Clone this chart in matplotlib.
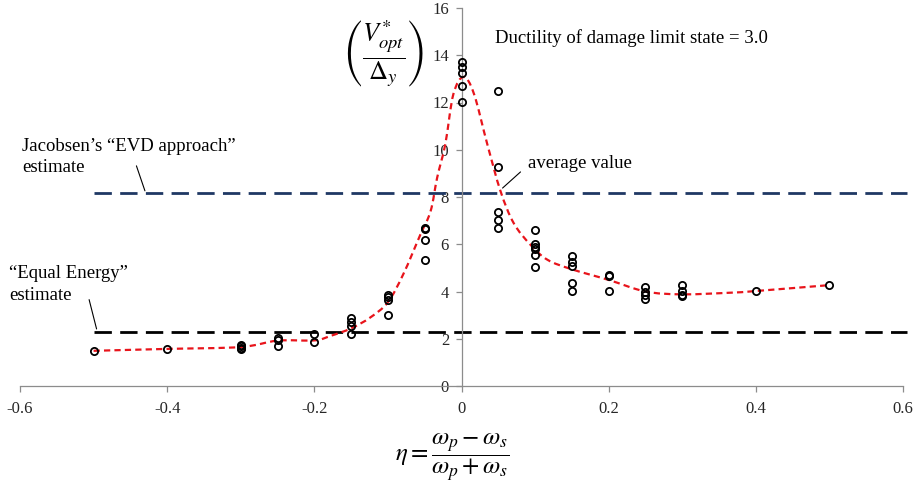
import matplotlib
matplotlib.use("Agg")
import matplotlib.pyplot as plt
import numpy as np
from matplotlib.path import Path
from matplotlib.patches import PathPatch

plt.rcParams['font.family'] = ['Liberation Serif', 'DejaVu Serif']
plt.rcParams['mathtext.fontset'] = 'stix'
plt.rcParams['lines.scale_dashes'] = False

# ---- data ----
eta_groups = [-0.5, -0.4, -0.3, -0.25, -0.2, -0.15, -0.1, -0.05, 0.0,
              0.05, 0.1, 0.15, 0.2, 0.25, 0.3, 0.4, 0.5]
v_groups = [
    [1.49],
    [1.58],
    [1.75, 1.68, 1.62, 1.56],
    [2.03, 1.93, 1.68],
    [2.20, 1.85],
    [2.86, 2.72, 2.54, 2.20],
    [3.85, 3.75, 3.63, 3.00],
    [6.70, 6.63, 6.17, 5.33],
    [13.72, 13.50, 13.26, 12.70, 12.03],
    [12.50, 9.25, 7.35, 7.03, 6.68],
    [6.60, 6.03, 5.90, 5.80, 5.54, 5.02],
    [5.50, 5.26, 5.10, 4.34, 4.02],
    [4.70, 4.64, 4.02],
    [4.17, 3.97, 3.85, 3.68],
    [4.27, 4.02, 3.86, 3.82],
    [4.02],
    [4.27],
]

avg_eta = [-0.5, -0.4, -0.3, -0.25, -0.2, -0.178, -0.15, -0.124, -0.1, -0.079,
           -0.056, -0.042, -0.033, -0.022, -0.011, 0.003, 0.017, 0.035, 0.053,
           0.071, 0.094, 0.117, 0.15, 0.2, 0.25, 0.3, 0.366, 0.4, 0.5]
avg_v = [1.49, 1.57, 1.65, 1.92, 1.93, 2.12, 2.44, 2.90, 3.55, 4.74,
         6.40, 7.40, 8.83, 10.24, 12.36, 13.08, 12.36, 10.24, 8.25,
         6.89, 5.97, 5.34, 4.94, 4.49, 4.00, 3.88, 3.95, 4.02, 4.27]

evd_level = 8.15
equal_energy_level = 2.30
ref_line_eta = [-0.5, 0.605]

x_ticks = [-0.6, -0.4, -0.2, 0, 0.2, 0.4, 0.6]
x_tick_labels = ['-0.6', '-0.4', '-0.2', '0', '0.2', '0.4', '0.6']
y_ticks = [0, 2, 4, 6, 8, 10, 12, 14, 16]

# ---- figure ----
fig = plt.figure(figsize=(9.22, 4.96), dpi=100)
ax = fig.add_axes([20/922, 110/496, 883/922, 378/496])
ax.set_xlim(-0.6, 0.6)
ax.set_ylim(0, 16)

# reference lines
ax.plot(ref_line_eta, [evd_level]*2, color='#1F3864', lw=2.0,
        dashes=(12.5, 6), clip_on=False, zorder=2)
ax.plot(ref_line_eta, [equal_energy_level]*2, color='black', lw=2.0,
        dashes=(12.5, 6), clip_on=False, zorder=2)

# smooth average curve (Catmull-Rom -> cubic Bezier in data space)
px = np.array(avg_eta); py = np.array(avg_v)
verts = [(px[0], py[0])]
codes = [Path.MOVETO]
n = len(px)
for i in range(n - 1):
    p0 = np.array([px[max(i-1, 0)], py[max(i-1, 0)]])
    p1 = np.array([px[i], py[i]])
    p2 = np.array([px[i+1], py[i+1]])
    p3 = np.array([px[min(i+2, n-1)], py[min(i+2, n-1)]])
    c1 = p1 + (p2 - p0) / 6.0
    c2 = p2 - (p3 - p1) / 6.0
    verts += [tuple(c1), tuple(c2), tuple(p2)]
    codes += [Path.CURVE4]*3
path = Path(verts, codes)
patch = PathPatch(path, facecolor='none', edgecolor='#E8141B', lw=1.6,
                  linestyle=(0, (4.5, 3)), zorder=3)
ax.add_patch(patch)

# scatter points
for e, vals in zip(eta_groups, v_groups):
    ax.plot([e]*len(vals), vals, linestyle='none', marker='o', ms=5.2,
            mfc='none', mec='black', mew=1.3, zorder=4)

# axes styling
for s in ['top', 'right']:
    ax.spines[s].set_visible(False)
ax.spines['left'].set_position(('data', 0))
ax.spines['bottom'].set_position(('data', 0))
for s in ['left', 'bottom']:
    ax.spines[s].set_color('#8C8C8C')
    ax.spines[s].set_linewidth(0.9)
ax.set_xticks(x_ticks)
ax.set_xticklabels(x_tick_labels)
ax.set_yticks(y_ticks)
ax.tick_params(axis='both', direction='out', length=4, width=0.9,
               color='#8C8C8C', labelsize=12, labelcolor='#262626')
ax.tick_params(axis='x', pad=7)
ax.tick_params(axis='y', pad=5)
ax.patch.set_alpha(0)

# annotations
tfs = 13.5
ax.text(-0.597, 9.96, 'Jacobsen’s “EVD approach”', fontsize=tfs, va='baseline', clip_on=False)
ax.text(-0.597, 9.07, 'estimate', fontsize=tfs, va='baseline', clip_on=False)
ax.annotate('', xy=(-0.429, evd_level), xytext=(-0.443, 9.43),
            arrowprops=dict(arrowstyle='-', color='black', lw=0.8), annotation_clip=False)

ax.text(-0.615, 4.56, '“Equal Energy”', fontsize=tfs, va='baseline', clip_on=False)
ax.text(-0.615, 3.64, 'estimate', fontsize=tfs, va='baseline', clip_on=False)
ax.annotate('', xy=(-0.495, equal_energy_level), xytext=(-0.507, 3.77),
            arrowprops=dict(arrowstyle='-', color='black', lw=0.8), annotation_clip=False)

ax.text(0.0897, 9.23, 'average value', fontsize=tfs, va='baseline')
ax.annotate('', xy=(0.053, 8.3), xytext=(0.083, 9.14),
            arrowprops=dict(arrowstyle='-', color='black', lw=0.8))

ax.text(0.046, 14.53, 'Ductility of damage limit state = 3.0', fontsize=tfs, va='baseline')

ax.text(-0.106, 14.05, r'$\left(\dfrac{V^{*}_{opt}}{\Delta_{y}}\right)$',
        fontsize=19, ha='center', va='center')

fig.text(452/922, 1 - 458/496,
         r'$\eta=\dfrac{\omega_{p}-\omega_{s}}{\omega_{p}+\omega_{s}}$',
         fontsize=18, ha='center', va='center')

fig.savefig('out.png', dpi=100)
